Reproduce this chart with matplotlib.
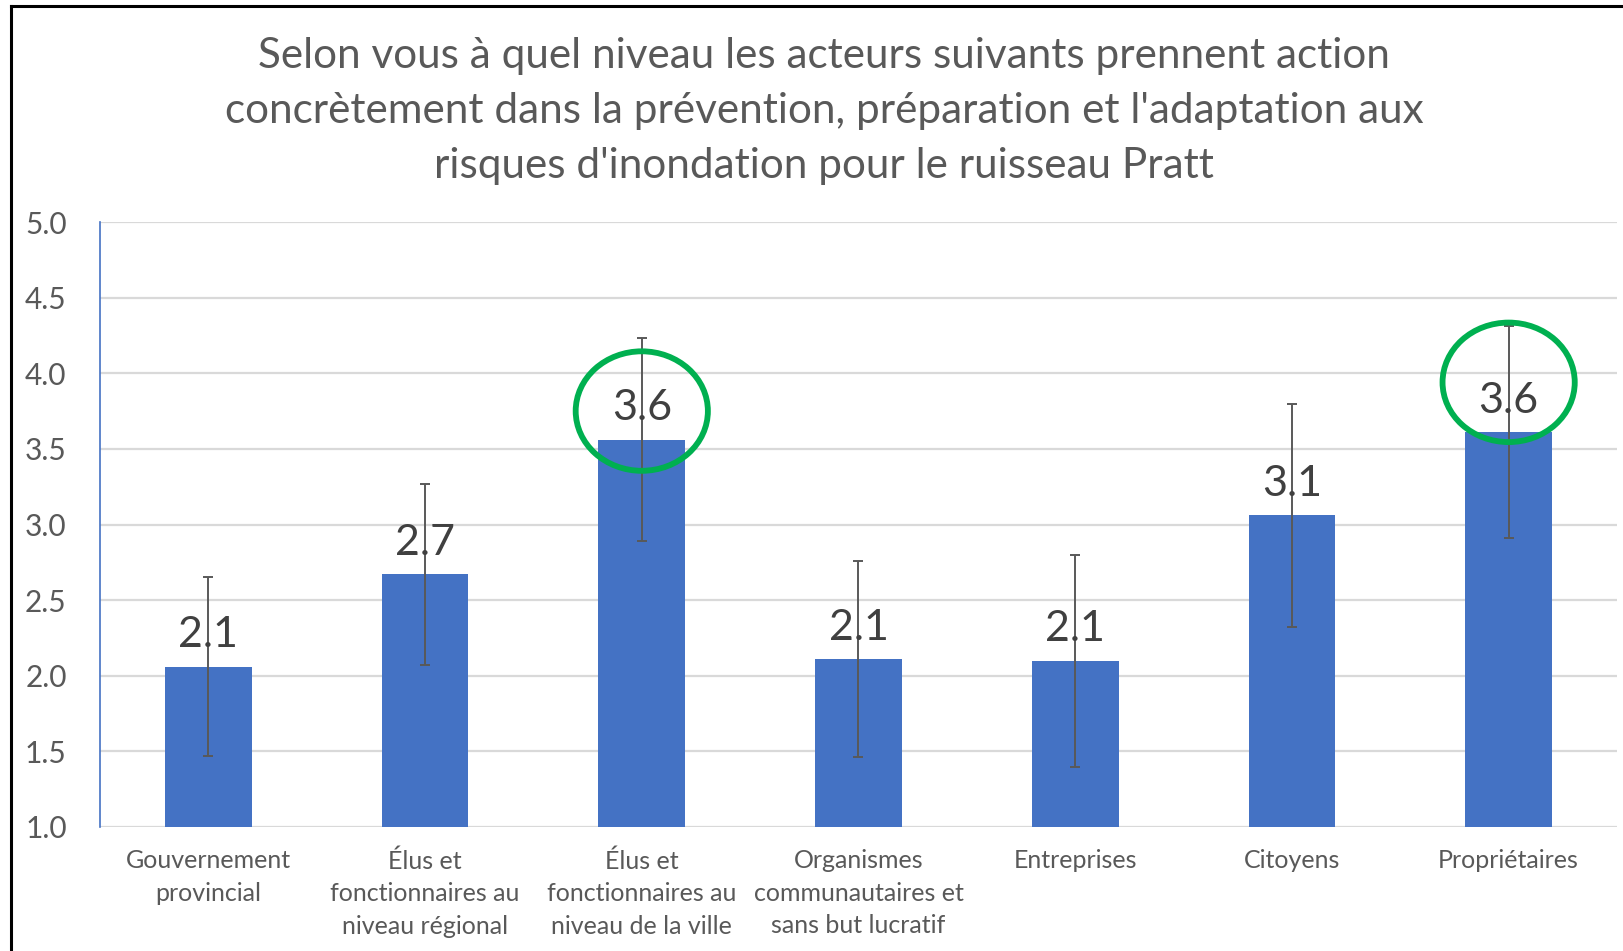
import matplotlib
matplotlib.use("Agg")
import matplotlib.pyplot as plt
from matplotlib.lines import Line2D
from matplotlib.patches import Ellipse
import numpy as np

# ── Survey results: mean score and standard deviation per actor ──
categories = [
    "Gouvernement\nprovincial",
    "Élus et\nfonctionnaires au\nniveau régional",
    "Élus et\nfonctionnaires au\nniveau de la ville",
    "Organismes\ncommunautaires et\nsans but lucratif",
    "Entreprises",
    "Citoyens",
    "Propriétaires",
]
means = [2.06, 2.67, 3.56, 2.11, 2.10, 3.06, 3.61]
std_devs = [0.59, 0.60, 0.67, 0.65, 0.70, 0.74, 0.70]

# bars to circle, with the circle's centre height
highlighted = [2, 6]
circle_centres = [3.75, 3.94]

title = ("Selon vous à quel niveau les acteurs suivants prennent action\n"
         "concrètement dans la prévention, préparation et l'adaptation aux\n"
         "risques d'inondation pour le ruisseau Pratt")

FONT = ["Lato", "DejaVu Sans"]
GREY = "#595959"
BLUE = "#4472C4"
GREEN = "#00B050"

plt.rcParams["font.family"] = FONT

fig = plt.figure(figsize=(16.24, 9.51), dpi=100)
ax = fig.add_axes([100 / 1624, 1 - 827 / 951, 1517 / 1624, 605 / 951])

x = np.arange(len(categories))
ax.bar(x, np.array(means) - 1.0, bottom=1.0, width=0.40, color=BLUE, zorder=2)
ax.errorbar(x, means, yerr=std_devs, fmt="none", ecolor="#595959",
            elinewidth=1.4, capsize=3.5, capthick=1.4, zorder=3)

for xi, m in zip(x, means):
    ax.annotate(f"{m:.1f}", (xi, m), xytext=(0, 9), textcoords="offset points",
                ha="center", va="bottom", fontsize=31, color="#404040", zorder=4)

# circles around the two highest scores
for i, cy in zip(highlighted, circle_centres):
    ax.add_patch(Ellipse((x[i], cy), width=0.61, height=0.79,
                         fill=False, edgecolor=GREEN, linewidth=4.2, zorder=5))

ax.set_xlim(-0.5, len(categories) - 0.5)
ax.set_ylim(1.0, 5.0)
ax.set_yticks(np.arange(1.0, 5.01, 0.5))
ax.set_yticklabels([f"{v:.1f}" for v in np.arange(1.0, 5.01, 0.5)])
ax.yaxis.grid(True, color="#d9d9d9", linewidth=1.6, zorder=0)
ax.set_axisbelow(True)

ax.set_xticks(x)
ax.set_xticklabels(categories, fontsize=18, color=GREY, linespacing=1.5, va="top")
ax.tick_params(axis="x", length=0, pad=16)
ax.tick_params(axis="y", length=0, pad=24, labelsize=21.5, labelcolor=GREY)

for side in ["top", "right", "bottom"]:
    ax.spines[side].set_visible(False)
ax.spines["left"].set_color(BLUE)
ax.spines["left"].set_linewidth(1.2)

fig.text(824 / 1624, 1 - 111 / 951, title, ha="center", va="center",
         fontsize=30.4, color=GREY, linespacing=1.55)

# outer frame (left and top edges)
fig.add_artist(Line2D([11 / 1624, 11 / 1624], [0, 1 - 6 / 951],
                      transform=fig.transFigure, color="black", linewidth=2.2))
fig.add_artist(Line2D([11 / 1624, 1], [1 - 6 / 951, 1 - 6 / 951],
                      transform=fig.transFigure, color="black", linewidth=2.2))

fig.savefig("out.png", dpi=100)
